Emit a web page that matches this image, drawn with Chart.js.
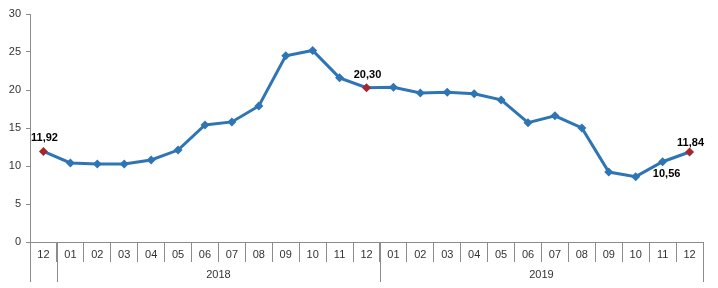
<!DOCTYPE html>
<html>
<head>
<meta charset="utf-8">
<script src="https://cdn.jsdelivr.net/npm/chart.js@4"></script>
<style>
  html, body { margin: 0; padding: 0; background: #fff; }
  #wrap { width: 718px; height: 288px; }
</style>
</head>
<body>
<div id="wrap"><canvas id="chart" width="718" height="288"></canvas></div>
<script>
// Data
const months = ['12', '01', '02', '03', '04', '05', '06', '07', '08', '09', '10', '11', '12',
  '01', '02', '03', '04', '05', '06', '07', '08', '09', '10', '11', '12'];
const values = [11.92, 10.40, 10.26, 10.26, 10.80, 12.10, 15.40, 15.80, 17.90, 24.50, 25.20, 21.60, 20.30,
  20.35, 19.60, 19.70, 19.50, 18.70, 15.70, 16.60, 15.00, 9.20, 8.60, 10.56, 11.84];
const years = ['2018', '2019'];
const yearFirst = [1, 13];
const yearLast = [12, 24];
const highlighted = [0, 12, 24];
const labelled = [0, 12, 23, 24];
const yTicks = [0, 5, 10, 15, 20, 25, 30];

const blue = '#2e75b6';
const red = '#a3282e';
const axisGrey = '#8c8c8c';

const pointColors = values.map((v, i) => highlighted.includes(i) ? red : blue);

// value labels + two-level x axis
const extras = {
  id: 'extras',
  afterDraw(chart) {
    const { ctx, scales: { x, y }, chartArea } = chart;
    ctx.save();
    // value labels
    ctx.font = 'bold 11px "Liberation Sans", Arial, sans-serif';
    ctx.fillStyle = '#000';
    ctx.textAlign = 'center';
    ctx.textBaseline = 'middle';
    labelled.forEach(i => {
      const px = x.getPixelForValue(i);
      const py = y.getPixelForValue(values[i]);
      const txt = values[i].toFixed(2).replace('.', ',');
      if (i === 23) ctx.fillText(txt, px + 4, py + 12);
      else if (i === 24) ctx.fillText(txt, px + 1, py - 9);
      else ctx.fillText(txt, px + 1, py - 13);
    });

    // year row
    const half = (x.getPixelForValue(1) - x.getPixelForValue(0)) / 2;
    const top = chartArea.bottom;
    const bottom = top + 40;
    ctx.strokeStyle = axisGrey;
    ctx.lineWidth = 1;
    const cuts = [x.getPixelForValue(0) - half];
    yearFirst.forEach(i => cuts.push(x.getPixelForValue(i) - half));
    cuts.push(x.getPixelForValue(yearLast[yearLast.length - 1]) + half);
    cuts.forEach(cx => {
      const px = Math.round(cx) + 0.5;
      ctx.beginPath();
      ctx.moveTo(px, top);
      ctx.lineTo(px, bottom);
      ctx.stroke();
    });
    ctx.font = '11px "Liberation Sans", Arial, sans-serif';
    ctx.fillStyle = '#333';
    years.forEach((yr, k) => {
      const cx = (x.getPixelForValue(yearFirst[k]) + x.getPixelForValue(yearLast[k])) / 2;
      ctx.fillText(yr, cx, top + 33);
    });
    ctx.restore();
  }
};

new Chart(document.getElementById('chart'), {
  type: 'line',
  data: {
    labels: months,
    datasets: [{
      data: values,
      borderColor: blue,
      borderWidth: 3,
      tension: 0,
      pointStyle: 'rectRot',
      pointRadius: 4.5,
      pointBorderWidth: 0,
      pointBackgroundColor: pointColors,
      pointBorderColor: pointColors
    }]
  },
  options: {
    responsive: false,
    animation: false,
    layout: { padding: { top: 14, right: 15, left: 0, bottom: 0 } },
    plugins: { legend: { display: false }, tooltip: { enabled: false } },
    scales: {
      x: {
        offset: true,
        afterFit: s => { s.height = 46; },
        grid: { offset: true, drawOnChartArea: false, tickLength: 20, color: axisGrey },
        border: { color: axisGrey },
        ticks: {
          padding: -14,
          maxRotation: 0,
          autoSkip: false,
          color: '#333',
          font: { family: '"Liberation Sans", Arial, sans-serif', size: 11 }
        }
      },
      y: {
        min: 0,
        max: 30,
        afterFit: s => { s.width = 30; },
        afterBuildTicks: s => { s.ticks = yTicks.map(v => ({ value: v })); },
        grid: { drawOnChartArea: false, tickLength: 4, color: axisGrey },
        border: { color: axisGrey },
        ticks: {
          padding: 5,
          color: '#333',
          font: { family: '"Liberation Sans", Arial, sans-serif', size: 11 }
        }
      }
    }
  },
  plugins: [extras]
});
</script>
</body>
</html>
